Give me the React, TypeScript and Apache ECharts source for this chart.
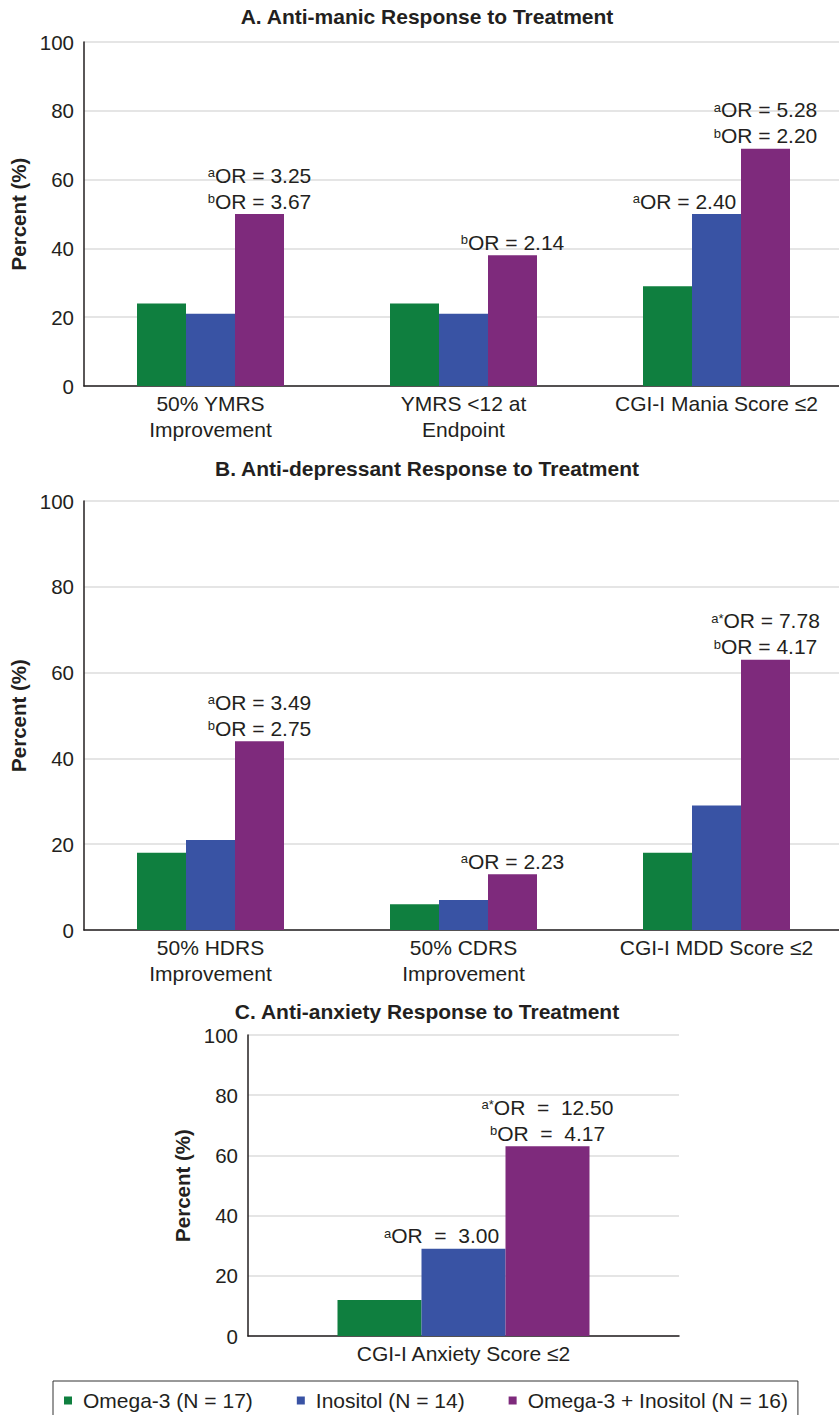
import React, { useEffect, useRef } from 'react';
import * as echarts from 'echarts';

const FONT = 'Liberation Sans, Arial, Helvetica, sans-serif';
const TEXT = '#231f20';

const seriesNames = ['Omega-3 (N = 17)', 'Inositol (N = 14)', 'Omega-3 + Inositol (N = 16)'];
const seriesColors = ['#0f7f3f', '#3953a4', '#7e2a7c'];

const panelTitles = [
  'A. Anti-manic Response to Treatment',
  'B. Anti-depressant Response to Treatment',
  'C. Anti-anxiety Response to Treatment',
];

// Panel A
const categoriesA = ['50% YMRS\nImprovement', 'YMRS <12 at\nEndpoint', 'CGI-I Mania Score ≤2'];
const omega3A = [24, 24, 29];
const inositolA = [21, 21, 50];
const comboA = [50, 38, 69];
const inositolNotesA = ['', '', '{sup|a}OR = 2.40'];
const comboNotesA = ['{sup|a}OR = 3.25\n{sup|b}OR = 3.67', '{sup|b}OR = 2.14', '{sup|a}OR = 5.28\n{sup|b}OR = 2.20'];

// Panel B
const categoriesB = ['50% HDRS\nImprovement', '50% CDRS\nImprovement', 'CGI-I MDD Score ≤2'];
const omega3B = [18, 6, 18];
const inositolB = [21, 7, 29];
const comboB = [44, 13, 63];
const inositolNotesB = ['', '', ''];
const comboNotesB = ['{sup|a}OR = 3.49\n{sup|b}OR = 2.75', '{sup|a}OR = 2.23', '{sup|a*}OR = 7.78\n{sup|b}OR = 4.17'];

// Panel C
const categoriesC = ['CGI-I Anxiety Score ≤2'];
const omega3C = [12];
const inositolC = [29];
const comboC = [63];
const inositolNotesC = ['{sup|a}OR  =  3.00'];
const comboNotesC = ['{sup|a*}OR  =  12.50\n{sup|b}OR  =  4.17'];

const yAxisName = 'Percent (%)';

export default function App() {
  const ref = useRef<HTMLDivElement>(null);

  useEffect(() => {
    if (!ref.current) return;
    const chart = echarts.init(ref.current, null, { renderer: 'svg' });

    const grids = [
      { left: 84, top: 42, width: 759, height: 344 },
      { left: 84, top: 501, width: 759, height: 429 },
      { left: 248, top: 1035, width: 431, height: 301 },
    ].map((g) => ({ ...g, outerBoundsMode: 'none', containLabel: false }));

    const cats = [categoriesA, categoriesB, categoriesC];
    const nameGaps = [48, 48, 53];

    const xAxes = cats.map((c, i) => ({
      type: 'category',
      gridIndex: i,
      data: c,
      axisLine: { show: true, lineStyle: { color: TEXT, width: 1.5 } },
      axisTick: { show: false },
      axisLabel: {
        interval: 0,
        fontSize: 21,
        lineHeight: 26,
        margin: 4,
        color: TEXT,
        fontFamily: FONT,
      },
      splitLine: { show: false },
    }));

    const yAxes = cats.map((_, i) => ({
      type: 'value',
      gridIndex: i,
      min: 0,
      max: 100,
      interval: 20,
      name: yAxisName,
      nameLocation: 'middle',
      nameGap: nameGaps[i],
      nameTextStyle: { fontSize: 20.5, fontWeight: 'bold', color: TEXT, fontFamily: FONT },
      axisLine: { show: true, lineStyle: { color: TEXT, width: 1.5 } },
      axisTick: { show: false },
      axisLabel: { fontSize: 20.5, margin: 10, color: TEXT, fontFamily: FONT },
      splitLine: { show: true, lineStyle: { color: '#dcdcdc', width: 1.5 } },
    }));

    const rich = {
      sup: {
        fontSize: 13,
        lineHeight: 13,
        verticalAlign: 'top',
        padding: [4, 0, 0, 0],
        color: TEXT,
        fontFamily: FONT,
      },
    };

    const makeSeries = (
      gridIdx: number,
      idx: number,
      values: number[],
      notes: string[] | null,
      barWidth: number,
      offsetX: number
    ) => ({
      type: 'bar',
      name: seriesNames[idx],
      xAxisIndex: gridIdx,
      yAxisIndex: gridIdx,
      data: values,
      barWidth,
      barGap: '0%',
      itemStyle: { color: seriesColors[idx] },
      label: {
        show: !!notes,
        position: 'top',
        distance: 0,
        offset: [offsetX, 0],
        formatter: (p: any) => (notes ? notes[p.dataIndex] : ''),
        fontSize: 21,
        lineHeight: 26,
        color: TEXT,
        fontFamily: FONT,
        rich,
      },
    });

    const series = [
      makeSeries(0, 0, omega3A, null, 49, 0),
      makeSeries(0, 1, inositolA, inositolNotesA, 49, -32),
      makeSeries(0, 2, comboA, comboNotesA, 49, 0),
      makeSeries(1, 0, omega3B, null, 49, 0),
      makeSeries(1, 1, inositolB, inositolNotesB, 49, -32),
      makeSeries(1, 2, comboB, comboNotesB, 49, 0),
      makeSeries(2, 0, omega3C, null, 84, 0),
      makeSeries(2, 1, inositolC, inositolNotesC, 84, -22),
      makeSeries(2, 2, comboC, comboNotesC, 84, 0),
    ];

    const titleYs = [16, 468, 1011];

    chart.setOption({
      animation: false,
      backgroundColor: '#ffffff',
      textStyle: { fontFamily: FONT },
      grid: grids,
      xAxis: xAxes,
      yAxis: yAxes,
      series,
      legend: {
        data: seriesNames,
        left: 53,
        top: 1381,
        orient: 'horizontal',
        icon: 'rect',
        itemWidth: 8,
        itemHeight: 8,
        itemGap: 44,
        selectedMode: false,
        borderColor: '#333333',
        borderWidth: 1,
        padding: [9, 10, 22, 11],
        textStyle: { fontSize: 21, color: TEXT, fontFamily: FONT, padding: [0, 0, 0, 6] },
      },
      graphic: panelTitles.map((t, i) => ({
        type: 'text',
        x: 427,
        y: titleYs[i],
        silent: true,
        style: {
          text: t,
          fontSize: 21,
          fontWeight: 'bold',
          fontFamily: FONT,
          fill: TEXT,
          align: 'center',
          verticalAlign: 'middle',
        },
      })),
    });

    return () => chart.dispose();
  }, []);

  return (
    <div
      ref={ref}
      style={{ position: 'absolute', left: 0, top: 0, width: 839, height: 1415, background: '#fff' }}
    />
  );
}
